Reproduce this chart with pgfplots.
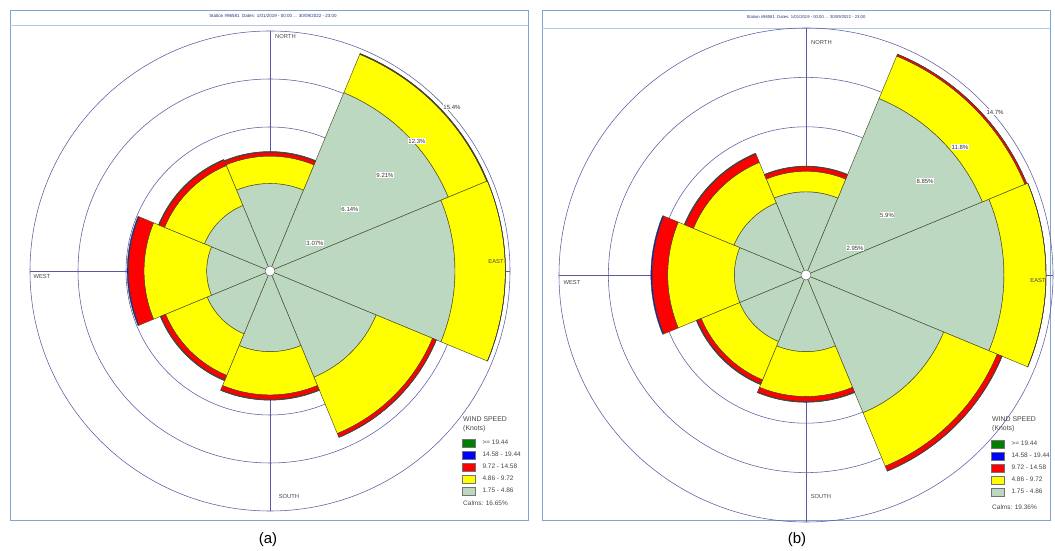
\documentclass[border=0pt]{standalone}
\usepackage{fontspec}
\setmainfont{Liberation Sans}
\usepackage{pgfplots}
\pgfplotsset{compat=1.18}
\usepackage{pgfplotstable}

\definecolor{framecol}{RGB}{125,165,205}
\definecolor{gridcol}{RGB}{90,90,160}
\definecolor{calmgreen}{RGB}{188,216,192}
\definecolor{wyellow}{RGB}{255,255,0}
\definecolor{wred}{RGB}{255,0,0}
\definecolor{wblue}{RGB}{0,0,255}
\definecolor{wdgreen}{RGB}{0,128,0}
\definecolor{edgecol}{RGB}{70,75,40}
\definecolor{titlecol}{RGB}{40,50,120}
\definecolor{labcol}{RGB}{70,70,70}

% dir: bearing of sector centre (deg, clockwise from north)
% g: 1.75-4.86, y: 4.86-9.72, r: 9.72-14.58, b: 14.58-19.44 knots (percent of time)
\pgfplotstableread{
dir g y r b
0   5.60 1.75 0.25 0.04
45  12.34 2.66 0.05 0.00
90  11.83 3.22 0.00 0.00
135 7.35 3.90 0.25 0.02
180 5.16 2.77 0.29 0.04
225 4.35 2.88 0.32 0.05
270 4.05 4.01 1.00 0.07
315 4.54 2.76 0.37 0.05
}\roseA

\pgfplotstableread{
dir g y r b
0   4.97 1.23 0.27 0.03
45  11.40 2.75 0.12 0.00
90  11.82 2.51 0.00 0.00
135 8.90 3.46 0.30 0.02
180 4.58 2.68 0.30 0.04
225 4.30 2.48 0.26 0.05
270 4.28 3.98 0.93 0.07
315 4.66 2.62 0.54 0.05
}\roseB

\tikzset{
  complab/.style={font=\fontsize{5.8}{6.5}\selectfont, text=labcol, inner sep=0pt},
  pctlab/.style={font=\fontsize{6}{7}\selectfont, text=black!80, fill=white, inner sep=0.6pt},
  legtxt/.style={text=labcol, anchor=west, inner sep=0pt},
}
\pgfplotsset{
  rose band/.style n args={3}{
    only marks, scatter, forget plot,
    mark=*, mark size=0pt,
    point meta=\thisrow{dir},
    visualization depends on={\thisrow{dir} \as \wdir},
    visualization depends on={#2 \as \wrin},
    visualization depends on={#3 \as \wrout},
    scatter/@pre marker code/.code={%
      \pgfmathsetmacro\wa{112.5-\wdir}%
      \pgfmathsetmacro\wb{67.5-\wdir}%
      \pgfmathsetmacro\wi{\wrin*\rscale}%
      \pgfmathsetmacro\wo{\wrout*\rscale}%
      \filldraw[fill=#1, draw=edgecol, line width=0.45pt, line join=round]
        (\wa:\wi pt) arc[start angle=\wa, end angle=\wb, radius=\wi pt]
        -- (\wb:\wo pt) arc[start angle=\wb, end angle=\wa, radius=\wo pt] -- cycle;
    },
    scatter/@post marker code/.code={},
  },
  rose axis/.style={
    axis lines=none, clip=false, enlargelimits=false,
    legend cell align=left,
    legend image code/.code={\draw[##1, draw=black!55, line width=0.3pt] (0pt,-4pt) rectangle (13pt,4pt);},
    legend style={at={(0.5,0.5)}, anchor=north west, draw=none, fill=none,
      font=\fontsize{6.5}{7}\selectfont, text=labcol, inner sep=0pt, row sep=3.7pt,
      nodes={inner sep=1pt},
      /tikz/every odd column/.append style={column sep=6pt}},
  },
  rose overlay/.style={axis lines=none, clip=false, enlargelimits=false},
}

\newcommand{\roseplots}[1]{%
  \addplot[rose band={calmgreen}{0.01}{\thisrow{g}}] table[x expr=0, y expr=0] {#1};
  \addplot[rose band={wyellow}{\thisrow{g}}{\thisrow{g}+\thisrow{y}}] table[x expr=0, y expr=0] {#1};
  \addplot[rose band={wred}{\thisrow{g}+\thisrow{y}}{\thisrow{g}+\thisrow{y}+\thisrow{r}}] table[x expr=0, y expr=0] {#1};
  \addplot[rose band={wblue}{\thisrow{g}+\thisrow{y}+\thisrow{r}}{\thisrow{g}+\thisrow{y}+\thisrow{r}+\thisrow{b}}] table[x expr=0, y expr=0] {#1};
}
\newcommand{\roselegend}{%
  \addlegendimage{fill=wdgreen}\addlegendentry{>= 19.44}
  \addlegendimage{fill=wblue}\addlegendentry{14.58 - 19.44}
  \addlegendimage{fill=wred}\addlegendentry{9.72 - 14.58}
  \addlegendimage{fill=wyellow}\addlegendentry{4.86 - 9.72}
  \addlegendimage{fill=calmgreen}\addlegendentry{1.75 - 4.86}
}

\begin{document}
\begin{tikzpicture}
% panel frames and titles
\draw[framecol, line width=0.9pt] (10pt,31pt) rectangle (528pt,541pt);
\draw[framecol!60, line width=0.6pt] (10pt,526pt) -- (528pt,526pt);
\node[font=\fontsize{4.5}{5}\selectfont, text=titlecol] at (273pt,535pt) {Station \#96581\ \ Dates: 1/01/2019 - 00:00 ... 30/09/2022 - 23:00};
\draw[framecol, line width=0.9pt] (542pt,31pt) rectangle (1050pt,541pt);
\draw[framecol!60, line width=0.6pt] (542pt,523pt) -- (1050pt,523pt);
\node[font=\fontsize{4.2}{5}\selectfont, text=titlecol] at (806pt,534pt) {Station \#96581\ \ Dates: 1/01/2019 - 00:00 ... 30/09/2022 - 23:00};
\node[font=\fontsize{15}{16}\selectfont] at (268pt,11pt) {(a)};
\node[font=\fontsize{15}{16}\selectfont] at (797pt,11pt) {(b)};

% ---------------- (a) ----------------
\def\rscale{15.64}
\begin{axis}[rose axis, at={(270pt,280pt)}, anchor=origin, x=15.64pt, y=15.64pt,
  xmin=-16, xmax=16, ymin=-16, ymax=16,
  legend style={xshift=192pt, yshift=-168pt}]
  \draw[gridcol, line width=0.55pt] (axis cs:0,0) circle[radius=48pt];
  \draw[gridcol, line width=0.55pt] (axis cs:0,0) circle[radius=96pt];
  \draw[gridcol, line width=0.55pt] (axis cs:0,0) circle[radius=144pt];
  \draw[gridcol, line width=0.55pt] (axis cs:0,0) circle[radius=192pt];
  \draw[gridcol, line width=0.55pt] (axis cs:0,0) circle[radius=240pt];
  \draw[gridcol, line width=0.55pt] (axis cs:0,0) ++(0pt,240pt) -- ++(0pt,-480pt);
  \draw[gridcol, line width=0.55pt] (axis cs:0,0) ++(-240pt,0pt) -- ++(480pt,0pt);
  \roseplots{\roseA}
  \roselegend
\end{axis}
\begin{axis}[rose overlay, at={(270pt,280pt)}, anchor=origin, x=15.64pt, y=15.64pt,
  xmin=-16, xmax=16, ymin=-16, ymax=16]
  \filldraw[fill=white, draw=black!60, line width=0.5pt] (axis cs:0,0) circle[radius=5pt];
  \node[pctlab] at (axis cs:0,0) [xshift=45pt, yshift=28pt] {3.07\%};
  \node[pctlab] at (axis cs:0,0) [xshift=80pt, yshift=62pt] {6.14\%};
  \node[pctlab] at (axis cs:0,0) [xshift=115pt, yshift=96pt] {9.21\%};
  \node[pctlab] at (axis cs:0,0) [xshift=147pt, yshift=130pt] {12.3\%};
  \node[pctlab] at (axis cs:0,0) [xshift=182pt, yshift=164pt] {15.4\%};
  \node[complab, anchor=west] at (axis cs:0,0) [xshift=5pt, yshift=234pt] {NORTH};
  \node[complab] at (axis cs:0,0) [xshift=226pt, yshift=9pt] {EAST};
  \node[complab] at (axis cs:0,0) [xshift=-228pt, yshift=-6pt] {WEST};
  \node[complab] at (axis cs:0,0) [xshift=19pt, yshift=-226pt] {SOUTH};
  \node[legtxt, font=\fontsize{6.9}{7.5}\selectfont] at (axis cs:0,0) [xshift=193pt, yshift=-148pt] {WIND SPEED};
  \node[legtxt, font=\fontsize{6.9}{7.5}\selectfont] at (axis cs:0,0) [xshift=193pt, yshift=-158pt] {(Knots)};
  \node[legtxt, font=\fontsize{6.5}{7}\selectfont] at (axis cs:0,0) [xshift=193pt, yshift=-232pt] {Calms: 16.65\%};
\end{axis}

% ---------------- (b) ----------------
\def\rscale{16.75}
\begin{axis}[rose axis, at={(806pt,276pt)}, anchor=origin, x=16.75pt, y=16.75pt,
  xmin=-14.8, xmax=14.8, ymin=-14.8, ymax=14.8,
  legend style={xshift=185pt, yshift=-165pt}]
  \draw[gridcol, line width=0.55pt] (axis cs:0,0) circle[radius=49.4pt];
  \draw[gridcol, line width=0.55pt] (axis cs:0,0) circle[radius=98.8pt];
  \draw[gridcol, line width=0.55pt] (axis cs:0,0) circle[radius=148.2pt];
  \draw[gridcol, line width=0.55pt] (axis cs:0,0) circle[radius=197.6pt];
  \draw[gridcol, line width=0.55pt] (axis cs:0,0) circle[radius=247pt];
  \draw[gridcol, line width=0.55pt] (axis cs:0,0) ++(0pt,247pt) -- ++(0pt,-494pt);
  \draw[gridcol, line width=0.55pt] (axis cs:0,0) ++(-247pt,0pt) -- ++(494pt,0pt);
  \roseplots{\roseB}
  \roselegend
\end{axis}
\begin{axis}[rose overlay, at={(806pt,276pt)}, anchor=origin, x=16.75pt, y=16.75pt,
  xmin=-14.8, xmax=14.8, ymin=-14.8, ymax=14.8]
  \filldraw[fill=white, draw=black!60, line width=0.5pt] (axis cs:0,0) circle[radius=5pt];
  \node[pctlab] at (axis cs:0,0) [xshift=49pt, yshift=27pt] {2.95\%};
  \node[pctlab] at (axis cs:0,0) [xshift=81pt, yshift=60pt] {5.9\%};
  \node[pctlab] at (axis cs:0,0) [xshift=119pt, yshift=94pt] {8.85\%};
  \node[pctlab] at (axis cs:0,0) [xshift=154pt, yshift=128pt] {11.8\%};
  \node[pctlab] at (axis cs:0,0) [xshift=189pt, yshift=163pt] {14.7\%};
  \node[complab, anchor=west] at (axis cs:0,0) [xshift=5pt, yshift=232pt] {NORTH};
  \node[complab] at (axis cs:0,0) [xshift=232pt, yshift=-6pt] {EAST};
  \node[complab] at (axis cs:0,0) [xshift=-234pt, yshift=-8pt] {WEST};
  \node[complab] at (axis cs:0,0) [xshift=15pt, yshift=-222pt] {SOUTH};
  \node[legtxt, font=\fontsize{6.9}{7.5}\selectfont] at (axis cs:0,0) [xshift=186pt, yshift=-144pt] {WIND SPEED};
  \node[legtxt, font=\fontsize{6.9}{7.5}\selectfont] at (axis cs:0,0) [xshift=186pt, yshift=-154pt] {(Knots)};
  \node[legtxt, font=\fontsize{6.5}{7}\selectfont] at (axis cs:0,0) [xshift=186pt, yshift=-232pt] {Calms: 19.36\%};
\end{axis}
\pgfresetboundingbox
\useasboundingbox (0pt,0pt) rectangle (1055pt,551pt);
\end{tikzpicture}
\end{document}
